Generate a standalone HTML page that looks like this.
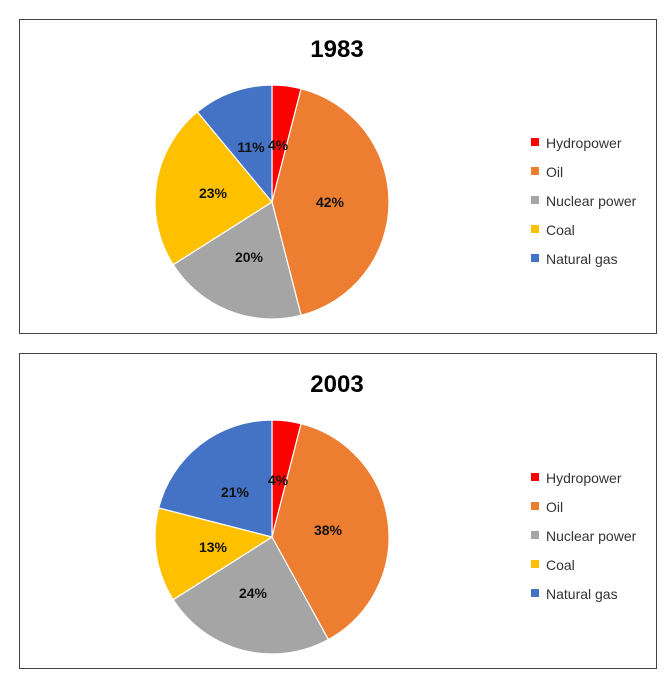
<!DOCTYPE html>
<html><head><meta charset="utf-8"><style>
body{margin:0;background:#fff;width:667px;height:690px;overflow:hidden}
svg{display:block}
text{font-family:"Liberation Sans",sans-serif}
</style></head><body>
<svg id="s" width="667" height="690" viewBox="0 0 667 690">
<rect x="19.5" y="19.5" width="637" height="314" fill="#fff" stroke="#444" stroke-width="1"/>
<rect x="19.5" y="353.5" width="637" height="315" fill="#fff" stroke="#444" stroke-width="1"/>
<g id="g"></g>
</svg>
<script>
var cols=["#FF0000","#ED7D31","#A5A5A5","#FFC000","#4472C4"];
var names=["Hydropower","Oil","Nuclear power","Coal","Natural gas"];
var charts=[
 {t:"1983",cy:202,v:[4,42,20,23,11],lp:[[278,150],[330,207],[249,262],[213,198],[251,152]]},
 {t:"2003",cy:537,v:[4,38,24,13,21],lp:[[278,485],[328,535],[253,598],[213,552],[235,497]]}
];
var s="",cx=272,r=117;
charts.forEach(function(c){
 var a=0;
 s+='<text x="337" y="'+(c.cy-145)+'" font-size="24" font-weight="bold" text-anchor="middle" fill="#000">'+c.t+'</text>';
 c.v.forEach(function(v,i){
  var a0=a*2*Math.PI/100,a1=(a+v)*2*Math.PI/100;a+=v;
  var x0=cx+r*Math.sin(a0),y0=c.cy-r*Math.cos(a0),x1=cx+r*Math.sin(a1),y1=c.cy-r*Math.cos(a1);
  s+='<path d="M'+cx+','+c.cy+' L'+x0+','+y0+' A'+r+','+r+' 0 '+(v>50?1:0)+' 1 '+x1+','+y1+' Z" fill="'+cols[i]+'" stroke="#fff" stroke-width="1.2"/>';
 });
 c.v.forEach(function(v,i){
  s+='<text x="'+c.lp[i][0]+'" y="'+c.lp[i][1]+'" font-size="14" font-weight="bold" text-anchor="middle" fill="#111">'+v+'%</text>';
  var ly=c.cy-59+i*29;
  s+='<rect x="531" y="'+(ly-5)+'" width="8" height="8" fill="'+cols[i]+'"/>';
  s+='<text x="546" y="'+(ly+5)+'" font-size="14" fill="#333">'+names[i]+'</text>';
 });
});
document.getElementById("g").innerHTML=s;
</script>
</body></html>
